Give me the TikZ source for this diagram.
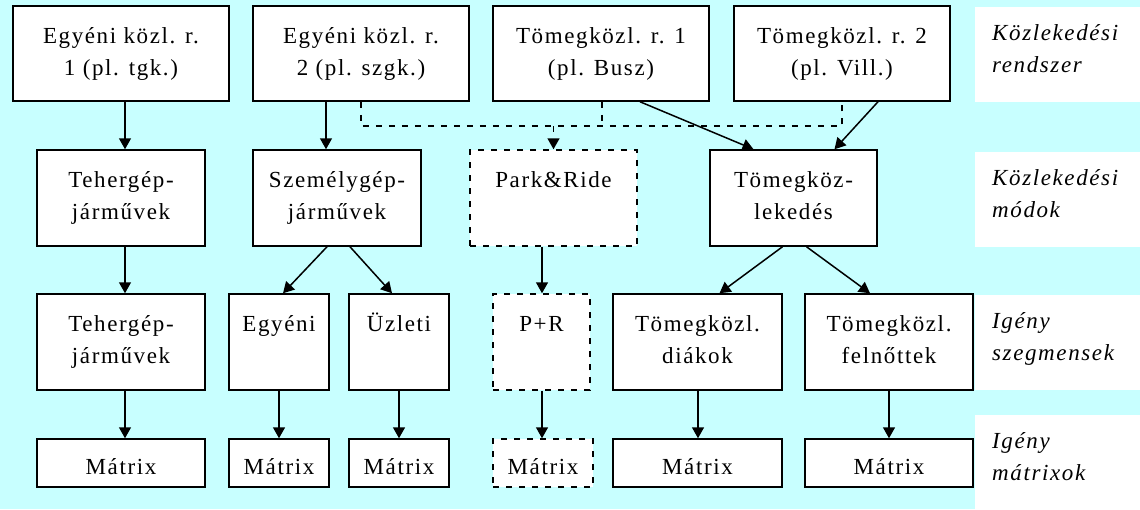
\documentclass[tikz,border=0pt]{standalone}
\usepackage{fontspec}
\setmainfont{Liberation Serif}[LetterSpace=7]
\usetikzlibrary{arrows.meta}
\definecolor{bgcyan}{RGB}{200,255,255}

% box from corner (x1,y1) to (x2,y2): style, name, x1, y1, x2, y2
\newcommand\mkbox[6]{%
  \node[#1, minimum width={(#5-#3)*1pt}, minimum height={(#6-#4)*1pt}]
    (#2) at ({(#3+#5)/2},{(#4+#6)/2}) {};}
\newcommand\firstline[1]{\rule{0pt}{#1pt}}

\tikzset{
  box/.style={draw, fill=white, line width=1.5pt, inner sep=0pt},
  dbox/.style={box, dash pattern=on 6pt off 7pt},
  lbl/.style={inner sep=0pt, align=center, anchor=north,
    font=\fontsize{23}{32}\selectfont},
  side/.style={inner sep=0pt, align=left, anchor=north west,
    font=\fontsize{23}{32}\selectfont\itshape},
  arr/.style={line width=1.5pt, -{Triangle[length=11pt,width=12pt]}},
  dsh/.style={line width=1.5pt, dash pattern=on 6pt off 7pt},
}

\begin{document}
\begin{tikzpicture}[x=1pt,y=-1pt]
  \useasboundingbox (0,0) rectangle (1140,509);
  \fill[bgcyan] (0,0) rectangle (1140,509);

  % level captions on the right
  \fill[white] (975,7) rectangle (1140,102);
  \fill[white] (975,152) rectangle (1140,247);
  \fill[white] (975,295) rectangle (1140,390);
  \fill[white] (975,415) rectangle (1140,509);
  \node[side] (s1) at (992,7)   {\firstline{33}Közlekedési\\rendszer};
  \node[side] (s2) at (992,152) {\firstline{33}Közlekedési\\módok};
  \node[side] (s3) at (992,295) {\firstline{33}Igény\\szegmensek};
  \node[side] (s4) at (992,415) {\firstline{33}Igény\\mátrixok};

  % transport systems
  \mkbox{box}{A}{13}{6}{229}{101}
  \mkbox{box}{B}{253}{6}{469}{101}
  \mkbox{box}{C}{493}{6}{709}{101}
  \mkbox{box}{D}{734}{6}{950}{101}
  % modes
  \mkbox{box}{T1}{37}{150}{205}{246}
  \mkbox{box}{S}{253}{150}{421}{246}
  \mkbox{dbox}{PR}{470}{150}{637}{246}
  \mkbox{box}{TK}{710}{150}{877}{246}
  % demand segments
  \mkbox{box}{T2}{37}{294}{205}{390}
  \mkbox{box}{E}{229}{294}{329}{390}
  \mkbox{box}{U}{349}{294}{449}{390}
  \mkbox{dbox}{P}{493}{294}{590}{390}
  \mkbox{box}{TD}{613}{294}{782}{390}
  \mkbox{box}{TF}{805}{294}{973}{390}
  % demand matrices
  \mkbox{box}{M1}{37}{439}{205}{487}
  \mkbox{box}{M2}{229}{439}{329}{487}
  \mkbox{box}{M3}{349}{439}{449}{487}
  \mkbox{dbox}{M4}{493}{439}{593}{487}
  \mkbox{box}{M5}{613}{439}{782}{487}
  \mkbox{box}{M6}{805}{439}{973}{487}

  % box texts
  \node[lbl] (tA) at (A.north) {\firstline{38}Egyéni közl. r.\\1 (pl. tgk.)};
  \node[lbl] (tB) at (B.north) {\firstline{38}Egyéni közl. r.\\2 (pl. szgk.)};
  \node[lbl] (tC) at (C.north) {\firstline{38}Tömegközl. r. 1\\(pl. Busz)};
  \node[lbl] (tD) at (D.north) {\firstline{38}Tömegközl. r. 2\\(pl. Vill.)};
  \node[lbl] (tT1) at (T1.north) {\firstline{38}Tehergép-\\járművek};
  \node[lbl] (tS) at (S.north) {\firstline{38}Személygép-\\járművek};
  \node[lbl] (tPR) at (PR.north) {\firstline{38}Park\&Ride};
  \node[lbl] (tTK) at (TK.north) {\firstline{38}Tömegköz-\\lekedés};
  \node[lbl] (tT2) at (T2.north) {\firstline{38}Tehergép-\\járművek};
  \node[lbl] (tE) at (E.north) {\firstline{38}Egyéni};
  \node[lbl] (tU) at (U.north) {\firstline{38}Üzleti};
  \node[lbl] (tP) at (P.north) {\firstline{38}P+R};
  \node[lbl] (tTD) at (TD.north) {\firstline{38}Tömegközl.\\diákok};
  \node[lbl] (tTF) at (TF.north) {\firstline{38}Tömegközl.\\felnőttek};
  \node[lbl] (tM1) at (M1.north) {\firstline{36}Mátrix};
  \node[lbl] (tM2) at (M2.north) {\firstline{36}Mátrix};
  \node[lbl] (tM3) at (M3.north) {\firstline{36}Mátrix};
  \node[lbl] (tM4) at (M4.north) {\firstline{36}Mátrix};
  \node[lbl] (tM5) at (M5.north) {\firstline{36}Mátrix};
  \node[lbl] (tM6) at (M6.north) {\firstline{36}Mátrix};

  % dashed collector line towards Park&Ride
  \coordinate (jL) at (361,126);
  \coordinate (jC) at (602,126);
  \coordinate (jR) at (842,126);
  \draw[dsh] (B.south -| jL) -- (jL) -- (jR) -- (D.south -| jR);
  \draw[dsh] (C.south -| jC) -- (jC);
  \draw[dsh, arr] (PR.north |- jL) -- (PR.north);

  % systems to modes
  \draw[arr] ([xshift=4pt]A.south) -- ([xshift=4pt]T1.north);
  \draw[arr] ([xshift=-11pt]S.north |- B.south) -- ([xshift=-11pt]S.north);
  \draw[arr] ([xshift=39pt]C.south) -- ([xshift=-40pt]TK.north);
  \draw[arr] ([xshift=36pt]D.south) -- ([xshift=41pt]TK.north);

  % modes to segments
  \draw[arr] ([xshift=4pt]T1.south) -- ([xshift=4pt]T2.north);
  \draw[arr] ([xshift=-10pt]S.south) -- ([xshift=4pt]E.north);
  \draw[arr] ([xshift=13pt]S.south) -- ([xshift=-7pt]U.north);
  \draw[arr] ([xshift=0.5pt]P.north |- PR.south) -- ([xshift=0.5pt]P.north);
  \draw[arr] ([xshift=-11pt]TK.south) -- ([xshift=22pt]TD.north);
  \draw[arr] ([xshift=13pt]TK.south) -- ([xshift=-19pt]TF.north);

  % segments to matrices
  \draw[arr] ([xshift=4pt]T2.south) -- ([xshift=4pt]M1.north);
  \draw[arr] (E.south) -- (E.south |- M2.north);
  \draw[arr] (U.south) -- (U.south |- M3.north);
  \draw[arr] ([xshift=0.5pt]P.south) -- ([xshift=0.5pt]P.south |- M4.north);
  \draw[arr] ([xshift=0.5pt]TD.south) -- ([xshift=0.5pt]TD.south |- M5.north);
  \draw[arr] (TF.south) -- (TF.south |- M6.north);
\end{tikzpicture}
\end{document}
